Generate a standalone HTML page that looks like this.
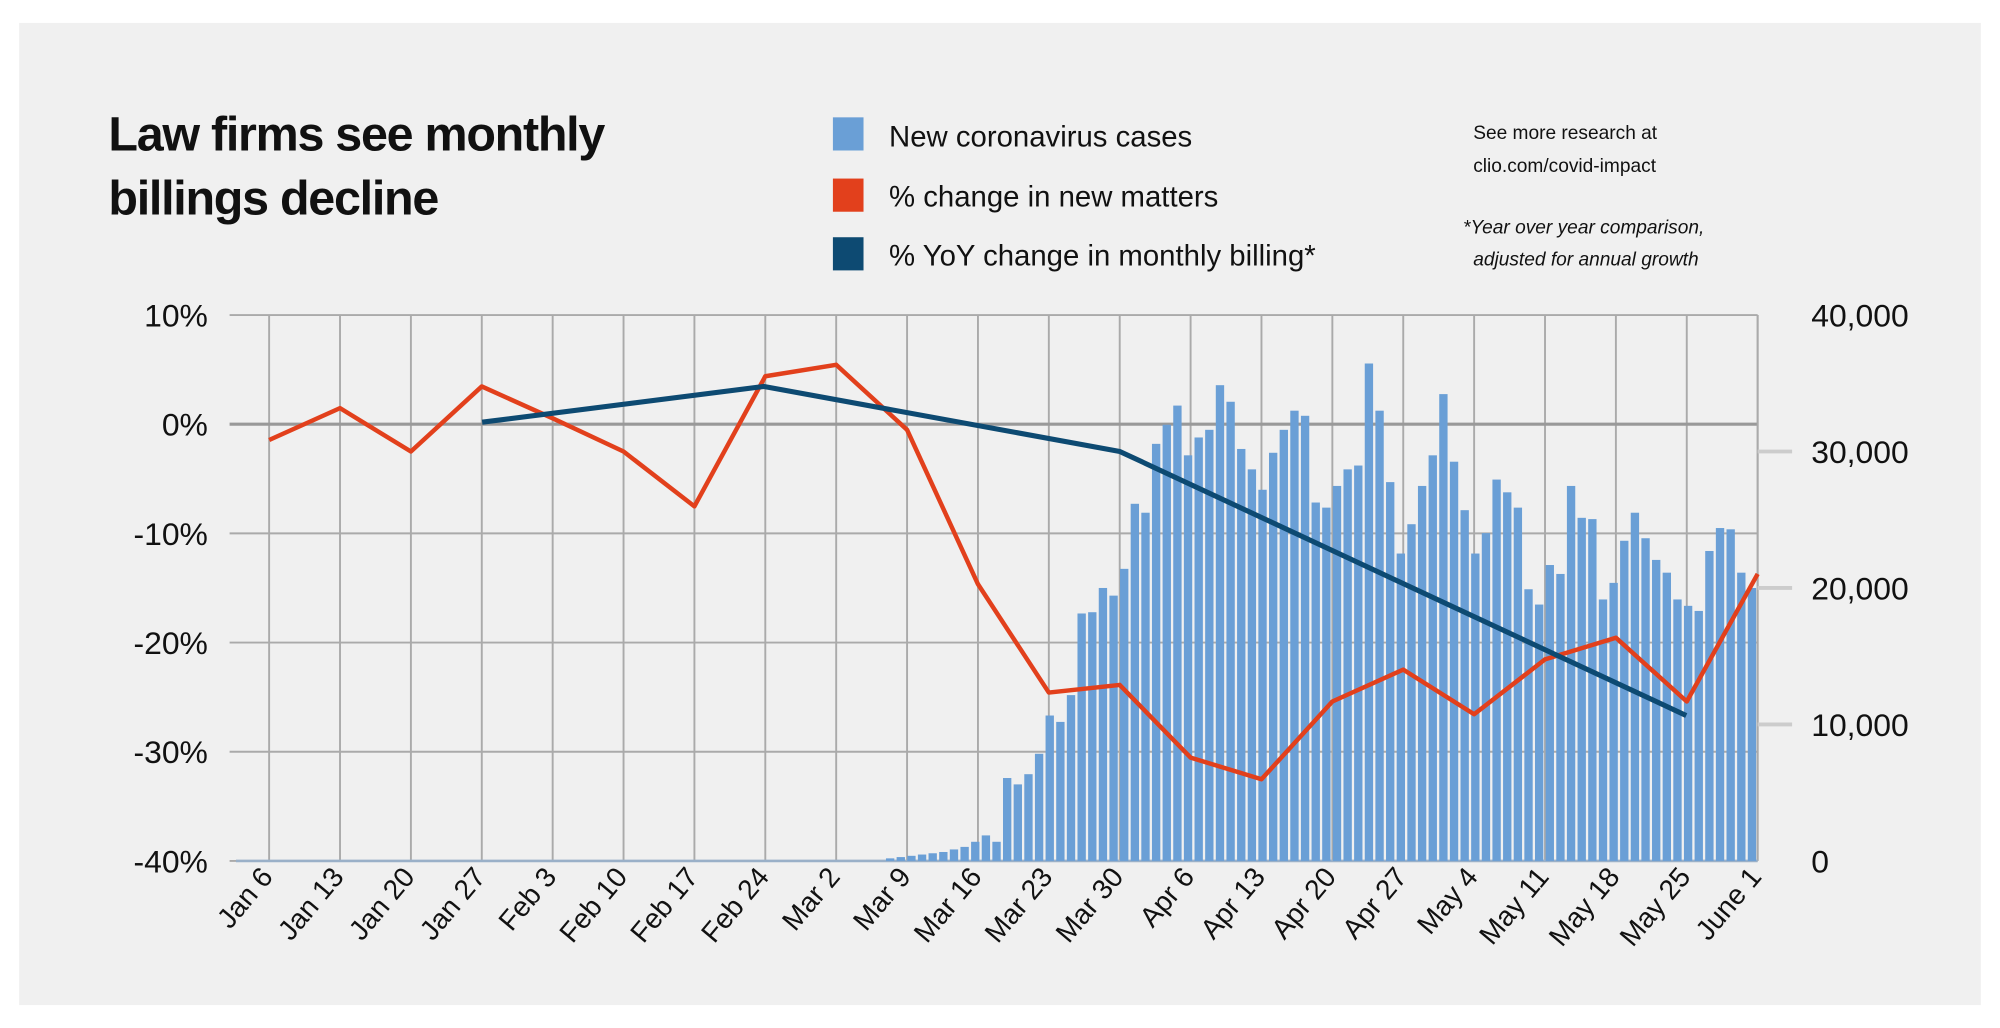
<!DOCTYPE html>
<html><head><meta charset="utf-8"><style>
html,body{margin:0;padding:0;background:#fff;}
svg{display:block;}
text{font-family:"Liberation Sans",sans-serif;fill:#111;}
</style></head><body>
<svg id="s" width="2000" height="1028" viewBox="0 0 1568 806" preserveAspectRatio="none" xmlns="http://www.w3.org/2000/svg">
<rect x="0" y="0" width="1568" height="806" fill="#fff"/>
<rect x="15" y="18" width="1538" height="770" fill="#f0f0f0"/>
<text x="85" y="118" font-size="38" font-weight="bold" letter-spacing="-1">Law firms see monthly</text>
<text x="85" y="168" font-size="38" font-weight="bold" letter-spacing="-1">billings decline</text>
<rect x="653" y="92" width="24" height="26" fill="#6a9fd6"/>
<rect x="653" y="140" width="24" height="26" fill="#e2401c"/>
<rect x="653" y="186" width="24" height="26" fill="#0d4a72"/>
<text x="697" y="115" font-size="23">New coronavirus cases</text>
<text x="697" y="162" font-size="23">% change in new matters</text>
<text x="697" y="208" font-size="23">% YoY change in monthly billing*</text>
<text x="1155" y="109" font-size="15">See more research at</text>
<text x="1155" y="135" font-size="15">clio.com/covid-impact</text>
<text x="1147" y="183" font-size="15" font-style="italic">*Year over year comparison,</text>
<text x="1155" y="208" font-size="15" font-style="italic">adjusted for annual growth</text>
<g id="grid" stroke="#aaa" stroke-width="1.5"></g>
<g id="bars" fill="#6a9fd6"></g>
<g id="lab"></g>
<polyline id="red" fill="none" stroke="#e2401c" stroke-width="3.5" stroke-linejoin="round"/>
<polyline points="378,331 599,303 878,354 1322,561" fill="none" stroke="#0d4a72" stroke-width="4" stroke-linejoin="round"/>
</svg>
<script>
var NS="http://www.w3.org/2000/svg",s=document.getElementById('s');
function el(p,t,a,txt){var e=document.createElementNS(NS,t);for(var k in a)e.setAttribute(k,a[k]);if(txt)e.textContent=txt;p.appendChild(e);return e;}
var g=document.getElementById('grid'),lab=document.getElementById('lab'),bars=document.getElementById('bars');
var X0=211,DX=(1378-211)/21;
var dates=["Jan 6","Jan 13","Jan 20","Jan 27","Feb 3","Feb 10","Feb 17","Feb 24","Mar 2","Mar 9","Mar 16","Mar 23","Mar 30","Apr 6","Apr 13","Apr 20","Apr 27","May 4","May 11","May 18","May 25","June 1"];
for(var i=0;i<22;i++){var x=X0+i*DX;el(g,'line',{x1:x,y1:247,x2:x,y2:675});
 el(lab,'text',{x:x+4,y:688,'font-size':22,'text-anchor':'end',transform:'rotate(-50 '+(x+4)+' 688)'},dates[i]);}
var pct=["10%","0%","-10%","-20%","-30%","-40%"];
for(var j=0;j<6;j++){var y=247+j*85.6;el(g,'line',{x1:180,y1:y,x2:1378,y2:y,stroke:j==1?'#999':'#aaa','stroke-width':j==1?2.5:1.5});
 el(lab,'text',{x:163,y:y+9,'font-size':25,'text-anchor':'end'},pct[j]);}
el(g,'line',{x1:1378,y1:247,x2:1378,y2:675});
var rl=["40,000","30,000","20,000","10,000","0"];
for(var j=0;j<5;j++){var y=247+j*107;if(j>0&&j<4)el(g,'line',{x1:1378,y1:y,x2:1405,y2:y,stroke:'#ccc','stroke-width':3});
 el(lab,'text',{x:1420,y:y+9,'font-size':25},rl[j]);}
el(g,'line',{x1:185,y1:675,x2:1378,y2:675,stroke:'#9ab0c8','stroke-width':2});
var red=[345,320,354,303,328,354,397,295,286,337,458,543,537,594,611,550,525,560,517,500,550,450];
document.getElementById('red').setAttribute('points',red.map(function(v,i){return (X0+i*DX)+','+v}).join(' '));
var tops=[673,672,671,670,669,668,666,664,660,655,660,610,615,607,591,561,566,545,481,480,461,467,446,395,402,348,333,318,357,343,337,302,315,352,368,384,355,337,322,326,394,398,381,368,365,285,322,378,434,411,381,357,309,362,400,434,418,376,386,398,462,474,443,450,381,406,407,470,457,424,402,422,439,449,470,475,479,432,414,415,449,461];
var n=tops.length,bx0=694,step=(1378-bx0)/n;
for(var k=0;k<n;k++){el(bars,'rect',{x:bx0+k*step+0.6,y:tops[k],width:step-1.8,height:675-tops[k]});}
</script>
</body></html>
